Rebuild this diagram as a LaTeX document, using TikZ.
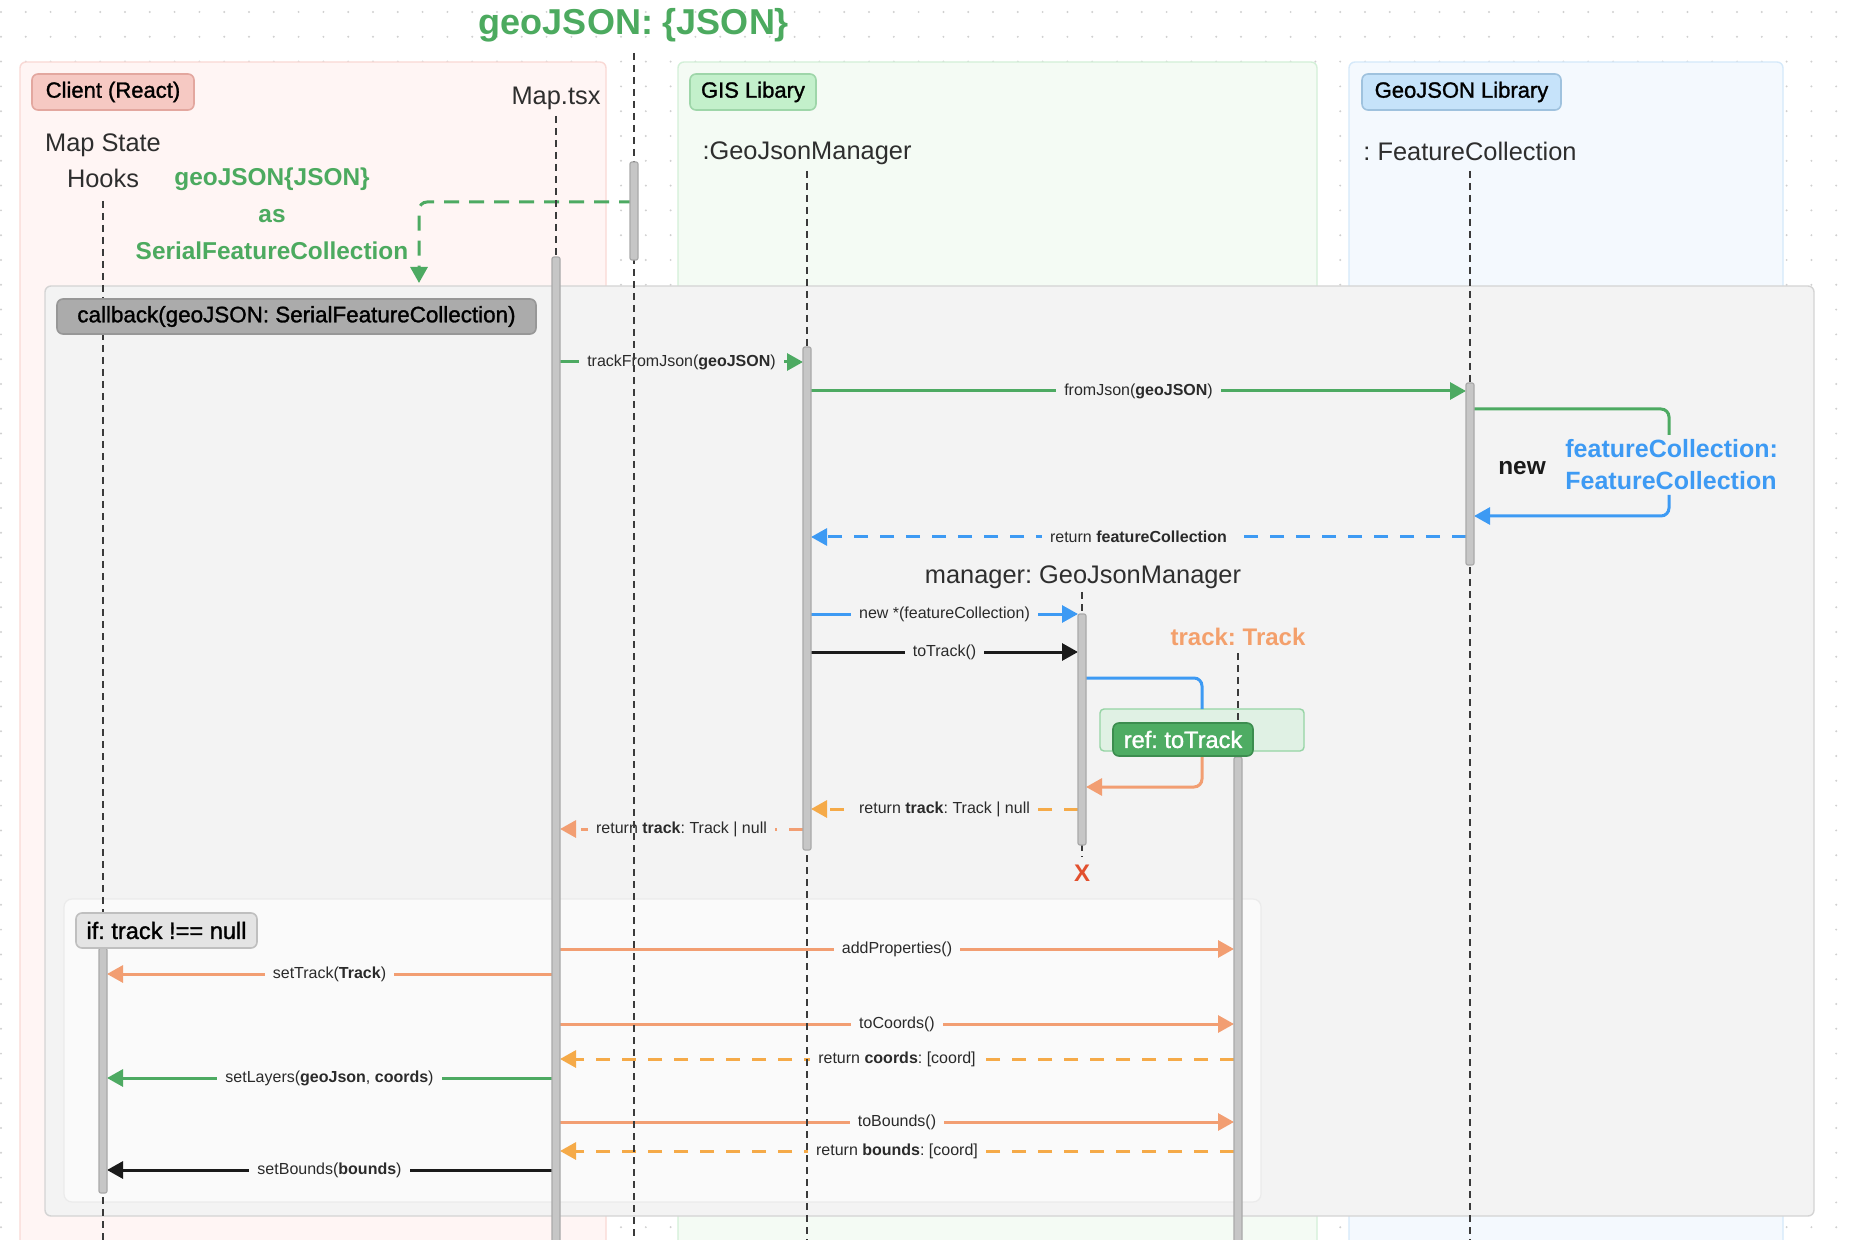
\documentclass[tikz,border=0pt]{standalone}
\usepackage{fontspec}
\setmainfont{Liberation Sans}
\newfontfamily\medfont{Liberation Sans}[FakeBold=1.3]
\usetikzlibrary{arrows.meta}
\frenchspacing
\definecolor{greenL}{HTML}{4DAA62}
\definecolor{greenT}{HTML}{4CAA5F}
\definecolor{blueL}{HTML}{3D9AF3}
\definecolor{salmon}{HTML}{F29E72}
\definecolor{orangeD}{HTML}{F5AA48}
\definecolor{blackL}{HTML}{1A1A1A}
\definecolor{redX}{HTML}{E2502E}
\definecolor{trackT}{HTML}{F3A06C}
\definecolor{hdrtxt}{HTML}{2E2E2E}
\definecolor{msgtxt}{HTML}{2A2A2A}
\definecolor{lifec}{HTML}{3A3A3A}
\definecolor{dotc}{HTML}{D0D0D0}
\definecolor{pinkFill}{HTML}{FFF5F4}
\definecolor{pinkDraw}{HTML}{F9D9D5}
\definecolor{pinkLblFill}{HTML}{F6C9C3}
\definecolor{pinkLblDraw}{HTML}{E3A79F}
\definecolor{greenFill}{HTML}{F4FBF4}
\definecolor{greenDraw}{HTML}{D3F0D8}
\definecolor{greenLblFill}{HTML}{C3F0CB}
\definecolor{greenLblDraw}{HTML}{9ED6A9}
\definecolor{blueFill}{HTML}{F4F9FE}
\definecolor{blueDraw}{HTML}{D5E9FA}
\definecolor{blueLblFill}{HTML}{C6E3FA}
\definecolor{blueLblDraw}{HTML}{9FC2DE}
\definecolor{cbFill}{HTML}{F3F3F3}
\definecolor{cbDraw}{HTML}{D4D4D4}
\definecolor{cbLblFill}{HTML}{ABABAB}
\definecolor{cbLblDraw}{HTML}{979797}
\definecolor{ifFill}{HTML}{FAFAFA}
\definecolor{ifDraw}{HTML}{EBEBEB}
\definecolor{ifLblFill}{HTML}{E4E4E4}
\definecolor{ifLblDraw}{HTML}{BFBFBF}
\definecolor{refFill}{HTML}{E0F1E4}
\definecolor{refDraw}{HTML}{95D4A4}
\definecolor{refLblFill}{HTML}{4EAC63}
\definecolor{refLblDraw}{HTML}{3C8D4F}
\definecolor{actFill}{HTML}{C6C6C6}
\definecolor{actDraw}{HTML}{A9A9A9}
\begin{document}
\begin{tikzpicture}[x=0.5pt,y=-0.5pt,
  lifeline/.style={draw=lifec, line width=0.75pt, dash pattern=on 3.5pt off 2.5pt},
  actbar/.style={fill=actFill, draw=actDraw, line width=0.6pt, rounded corners=1pt},
  msgline/.style={line width=1.5pt, -{Triangle[length=8pt,width=8.5pt]}},
  retline/.style={msgline, dash pattern=on 7pt off 6pt},
  mlabel/.style={font=\fontsize{8}{9.6}\selectfont, text=msgtxt, inner xsep=4pt, inner ysep=1pt},
  hdr/.style={font=\fontsize{12.7}{15}\selectfont, text=hdrtxt, anchor=base, inner sep=0pt},
  lanebox/.style={rounded corners=3pt, line width=0.7pt},
  lanelbl/.style={rounded corners=3pt, line width=0.8pt, font=\medfont\fontsize{11}{13}\selectfont, text=black, minimum height=18pt, inner xsep=0pt},
  greentxt/.style={font=\bfseries\fontsize{12.2}{14}\selectfont, text=greenT, anchor=base, inner sep=0pt},
]
\useasboundingbox (0,0) rectangle (1852,1240);
\clip (0,0) rectangle (1852,1240);
\fill[white] (0,0) rectangle (1852,1240);
% dotted grid
\foreach \i in {0,...,75}{
  \foreach \j in {0,...,50}{
    \fill[dotc] (1+24.8*\i,12+24.8*\j) circle (0.55pt);
  }
}
% swimlanes
\path[lanebox, fill=pinkFill, draw=pinkDraw] (20,62) rectangle (606,1280);
\path[lanebox, fill=greenFill, draw=greenDraw] (678,62) rectangle (1317,1280);
\path[lanebox, fill=blueFill, draw=blueDraw] (1349,62) rectangle (1783,1280);
\node[lanelbl, fill=pinkLblFill, draw=pinkLblDraw, minimum width=81pt] (clientLbl) at (113,92) {Client (React)};
\node[lanelbl, fill=greenLblFill, draw=greenLblDraw, minimum width=63pt] (gisLbl) at (753,92) {GIS Libary};
\node[lanelbl, fill=blueLblFill, draw=blueLblDraw, minimum width=99.5pt] (geoLbl) at (1461.5,92) {GeoJSON Library};
% title and headers
\node[anchor=base, font=\bfseries\fontsize{18}{22}\selectfont, text=greenT, inner sep=0pt] (title) at (634,35) {geoJSON: \{JSON\}};
\node[hdr] (mapState) at (103,152) {Map State};
\node[hdr] (hooksHdr) at (103,188) {Hooks};
\node[hdr] (mapTsx) at (556,105) {Map.tsx};
\node[hdr] (gjmHdr) at (807,160) {:GeoJsonManager};
\node[hdr] (fcHdr) at (1470,161) {: FeatureCollection};
\node[greentxt] (gj1) at (272,186) {geoJSON\{JSON\}};
\node[greentxt] (gj2) at (272,223) {as};
\node[greentxt] (gj3) at (272,260) {SerialFeatureCollection};
% frames
\draw[fill=cbFill, draw=cbDraw, line width=0.7pt, rounded corners=3pt] (45,286) rectangle (1814,1216);
\draw[fill=ifFill, draw=ifDraw, line width=0.6pt, rounded corners=4pt] (64,899) rectangle (1261,1202);
\draw[fill=refFill, draw=refDraw, line width=0.7pt, rounded corners=2pt] (1100,709) rectangle (1304,751);
\node[hdr] (mgrHdr) at (1083,583) {manager: GeoJsonManager};
\node[anchor=base, font=\bfseries\fontsize{12}{14}\selectfont, text=trackT, inner sep=0pt] (trackHdr) at (1238,646) {track: Track};
% coordinates
\coordinate (jsonTop) at (634,53);  \coordinate (jsonBot) at (634,1240);
\coordinate (mapTop) at (556,116);  \coordinate (mapBot) at (556,257);
\coordinate (hookTop) at (103,201); \coordinate (hookBot) at (103,1240);
\coordinate (gjmTop) at (807,171);  \coordinate (gjmBot) at (807,1240);
\coordinate (fcTop) at (1470,171);  \coordinate (fcBot) at (1470,1240);
\coordinate (mgrTop) at (1082,592); \coordinate (mgrBot) at (1082,857);
\coordinate (trTop) at (1238,653);  \coordinate (trBot) at (1238,1240);
% green dashed input arrow
\coordinate (inA) at (634,202); \coordinate (inB) at (419,202); \coordinate (inC) at (419,283);
\draw[greenL, line width=1.5pt, dash pattern=on 7.5pt off 5pt, rounded corners=4pt, -{Triangle[length=8pt,width=8.5pt]}] (inA) -- (inB) -- (inC);
% messages in callback frame
\coordinate (m1a) at (560,362); \coordinate (m1b) at (803,362);
\draw[msgline, greenL] (m1a) -- node[mlabel, fill=cbFill] (m1l) {trackFromJson(\textbf{geoJSON})} (m1b);
\coordinate (m2a) at (811,391); \coordinate (m2b) at (1466,391);
\draw[msgline, greenL] (m2a) -- node[mlabel, fill=cbFill] (m2l) {fromJson(\textbf{geoJSON})} (m2b);
\coordinate (s1a) at (1474,409); \coordinate (s1b) at (1669,409); \coordinate (s1c) at (1669,435);
\draw[greenL, line width=1.5pt, rounded corners=4pt] (s1a) -- (s1b) -- (s1c);
\node[anchor=base west, font=\bfseries\fontsize{12.5}{15}\selectfont, text=blueL, inner sep=0pt] (fcName1) at (1565,458) {featureCollection:};
\node[anchor=base west, font=\bfseries\fontsize{12.5}{15}\selectfont, text=blueL, inner sep=0pt] (fcName2) at (1565,490) {FeatureCollection};
\node[anchor=base, font=\bfseries\fontsize{12.2}{15}\selectfont, text=blackL, inner sep=0pt] (newLbl) at (1522,475) {new};
\coordinate (s2a) at (1669,495); \coordinate (s2b) at (1669,516); \coordinate (s2c) at (1474,516);
\draw[msgline, blueL, rounded corners=4pt] (s2a) -- (s2b) -- (s2c);
\coordinate (m3a) at (1466,537); \coordinate (m3b) at (811,537);
\draw[retline, blueL] (m3a) -- node[mlabel, fill=cbFill] (m3l) {return \textbf{featureCollection}} (m3b);
\coordinate (m4a) at (811,614); \coordinate (m4b) at (1078,614);
\draw[msgline, blueL] (m4a) -- node[mlabel, fill=cbFill] (m4l) {new *(featureCollection)} (m4b);
\coordinate (m5a) at (811,652); \coordinate (m5b) at (1078,652);
\draw[msgline, blackL] (m5a) -- node[mlabel, fill=cbFill] (m5l) {toTrack()} (m5b);
\coordinate (s3a) at (1086,678); \coordinate (s3b) at (1202,678); \coordinate (s3c) at (1202,709);
\draw[blueL, line width=1.5pt, rounded corners=4pt] (s3a) -- (s3b) -- (s3c);
\coordinate (s4a) at (1202,751); \coordinate (s4b) at (1202,787); \coordinate (s4c) at (1086,787);
\draw[msgline, salmon, rounded corners=4pt] (s4a) -- (s4b) -- (s4c);
\coordinate (m6a) at (1078,809); \coordinate (m6b) at (811,809);
\draw[retline, orangeD] (m6a) -- node[mlabel, fill=cbFill] (m6l) {return \textbf{track}: Track | null} (m6b);
\coordinate (m7a) at (803,829); \coordinate (m7b) at (560,829);
\draw[retline, salmon] (m7a) -- node[mlabel, fill=cbFill] (m7l) {return \textbf{track}: Track | null} (m7b);
% messages in if frame
\coordinate (m8a) at (560,949); \coordinate (m8b) at (1234,949);
\draw[msgline, salmon] (m8a) -- node[mlabel, fill=ifFill] (m8l) {addProperties()} (m8b);
\coordinate (m9a) at (552,974); \coordinate (m9b) at (107,974);
\draw[msgline, salmon] (m9a) -- node[mlabel, fill=ifFill] (m9l) {setTrack(\textbf{Track})} (m9b);
\coordinate (m10a) at (560,1024); \coordinate (m10b) at (1234,1024);
\draw[msgline, salmon] (m10a) -- node[mlabel, fill=ifFill] (m10l) {toCoords()} (m10b);
\coordinate (m11a) at (1234,1059); \coordinate (m11b) at (560,1059);
\draw[retline, orangeD] (m11a) -- node[mlabel, fill=ifFill] (m11l) {return \textbf{coords}: [coord]} (m11b);
\coordinate (m12a) at (552,1078); \coordinate (m12b) at (107,1078);
\draw[msgline, greenL] (m12a) -- node[mlabel, fill=ifFill] (m12l) {setLayers(\textbf{geoJson}, \textbf{coords})} (m12b);
\coordinate (m13a) at (560,1122); \coordinate (m13b) at (1234,1122);
\draw[msgline, salmon] (m13a) -- node[mlabel, fill=ifFill] (m13l) {toBounds()} (m13b);
\coordinate (m14a) at (1234,1151); \coordinate (m14b) at (560,1151);
\draw[retline, orangeD] (m14a) -- node[mlabel, fill=ifFill] (m14l) {return \textbf{bounds}: [coord]} (m14b);
\coordinate (m15a) at (552,1170); \coordinate (m15b) at (107,1170);
\draw[msgline, blackL] (m15a) -- node[mlabel, fill=ifFill] (m15l) {setBounds(\textbf{bounds})} (m15b);
% lifelines
\draw[lifeline] (jsonTop) -- (jsonBot);
\draw[lifeline] (mapTop) -- (mapBot);
\draw[lifeline] (hookTop) -- (hookBot);
\draw[lifeline] (gjmTop) -- (gjmBot);
\draw[lifeline] (fcTop) -- (fcBot);
\draw[lifeline] (mgrTop) -- (mgrBot);
\draw[lifeline] (trTop) -- (trBot);
% activation bars
\draw[actbar] (630,162) rectangle (638,260);
\draw[actbar] (552,257) rectangle (560,1260);
\draw[actbar] (803,347) rectangle (811,850);
\draw[actbar] (1466,383) rectangle (1474,565);
\draw[actbar] (1078,614) rectangle (1086,845);
\draw[actbar] (1234,757) rectangle (1242,1260);
\draw[actbar] (99,948) rectangle (107,1193);
% frame labels
\node[rounded corners=3pt, fill=cbLblFill, draw=cbLblDraw, line width=0.8pt, minimum width=239.5pt, minimum height=17.5pt, font=\medfont\fontsize{11.2}{13}\selectfont, text=black, inner sep=0pt] (cbLbl) at (296.5,316.5) {callback(geoJSON: SerialFeatureCollection)};
\node[rounded corners=3pt, fill=ifLblFill, draw=ifLblDraw, line width=0.8pt, minimum width=90.5pt, minimum height=17.5pt, font=\medfont\fontsize{11.8}{13}\selectfont, text=black, inner sep=0pt] (ifLbl) at (166.5,930.5) {if: track !== null};
\node[rounded corners=3pt, fill=refLblFill, draw=refLblDraw, line width=0.8pt, minimum width=70pt, minimum height=16.5pt, font=\medfont\fontsize{11.8}{13}\selectfont, text=white, inner sep=0pt] (refLbl) at (1183,739.5) {ref: toTrack};
\node[anchor=base, font=\bfseries\fontsize{12}{14}\selectfont, text=redX, inner sep=0pt] (xmark) at (1082,881) {X};
\end{tikzpicture}
\end{document}
